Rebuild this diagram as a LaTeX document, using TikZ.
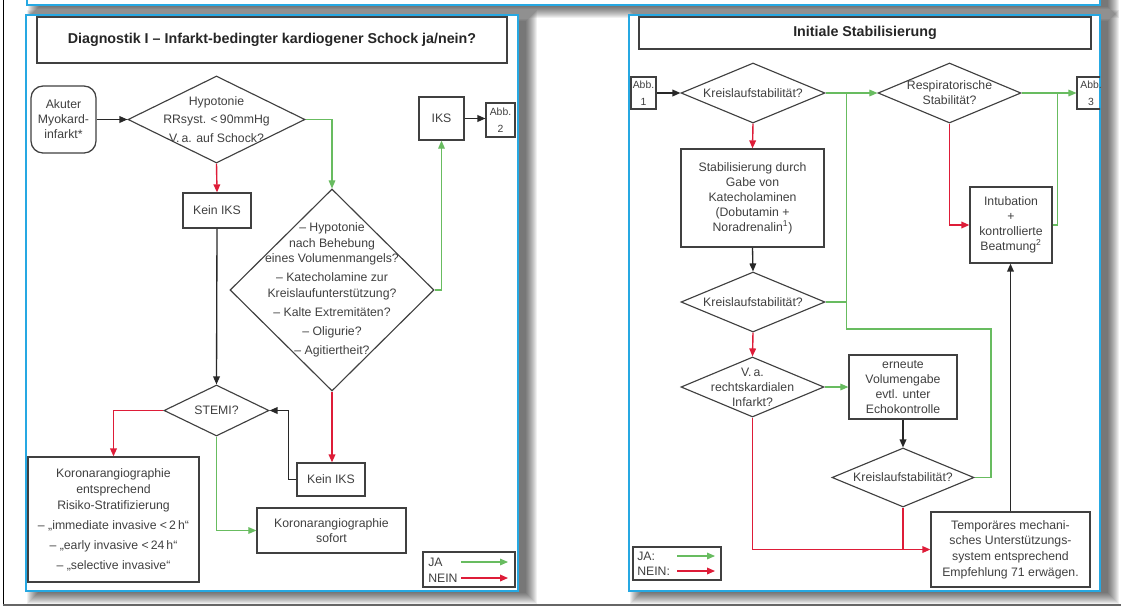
\documentclass[tikz,border=0pt]{standalone}
\usepackage{fontspec}
\setmainfont{Liberation Sans}
\usetikzlibrary{arrows.meta,shapes.geometric,calc}

\definecolor{panelblue}{RGB}{38,168,226}
\definecolor{jagreen}{RGB}{104,188,96}
\definecolor{neinred}{RGB}{222,28,56}
\definecolor{ink}{RGB}{64,64,64}
\definecolor{wire}{RGB}{40,40,40}

% soft drop shadow to the lower right of a rectangle (x0,y0,x1,y1)
\newcommand\pshade[4]{%
  \foreach \b in {0,...,11}{%
    \fill[black,opacity=0.058] (#1+12-\b,#2+6-\b) rectangle (#3+8+\b,#4+2+\b);}}

\begin{document}
\begin{tikzpicture}[x=0.75pt,y=-0.75pt,
  every node/.style={font=\fontsize{9.2}{11.25}\selectfont, text=ink},
  spanbox/.style args={#1/#2/#3/#4}{at={(0.5*#1+0.5*#3,0.5*#2+0.5*#4)},
    minimum width={(#3-#1)*0.75pt}, minimum height={(#4-#2)*0.75pt}},
  box/.style={draw=ink, line width=0.95pt, inner sep=1pt, align=center},
  dia/.style={draw=ink, line width=0.85pt, diamond, inner sep=0pt},
  dtext/.style={align=center, inner sep=0pt},
  head/.style={box, font=\fontsize{10.7}{12}\selectfont\bfseries, text=black!85},
  abb/.style={box, line width=0.8pt, inner sep=0pt, font=\fontsize{7.8}{12.5}\selectfont},
  tip/.style={-{Triangle[length=6pt,width=5pt]}},
  plain/.style={draw=wire, line width=1pt},
  yes/.style={draw=jagreen, line width=0.8pt},
  no/.style={draw=neinred, line width=1.05pt},
  panel/.style={draw=panelblue, line width=1.2pt, fill=white},
]
\useasboundingbox (0,0) rectangle (1121,608);
\fill[white] (0,0) rectangle (1121,608);

% page frame and header strip
\pshade{27}{-30}{1100}{5}
\draw[panel] (27,-30) rectangle (1100,5);
\draw[black,line width=0.9pt] (3.5,0) -- (3.5,605);
\draw[black!60,line width=1.2pt] (3,605) -- (1121,605);

% the two panels
\pshade{26}{15}{518}{591}
\draw[panel] (26,15) rectangle (518,591);
\pshade{629}{15}{1100}{591}
\draw[panel] (629,15) rectangle (1100,591);

% ---------------- Diagnostik I ----------------
\node[head, spanbox=37/17/507/63] (t1) {Diagnostik I – Infarkt-bedingter kardiogener Schock ja/nein?};
\node[box, rounded corners=9pt, spanbox=31/86/96/153] (akut) {Akuter\\Myokard-\\infarkt*};
\node[dia, spanbox=128/76/305/163] (d1) {};
\node[dtext] (d1t) at (d1) {Hypotonie\\[2.6pt] RRsyst. <\,90mmHg\\[2.6pt] V.\,a. auf Schock?};
\node[box, spanbox=419/97/464/140] (iks) {IKS};
\node[abb, spanbox=486/103/515/137] (abb2) {Abb.\\2};
\node[box, spanbox=183/193/251/228] (kein1) {Kein IKS};
\node[dia, spanbox=230/189/434/391] (d2) {};
\node[dtext] (d2t) at (d2) {– Hypotonie\\[0.4pt] nach Behebung\\[0.4pt] eines Volumenmangels?\\[3pt]
  – Katecholamine zur\\[0.4pt] Kreislaufunterstützung?\\[3pt] – Kalte Extremitäten?\\[3pt]
  – Oligurie?\\[3pt] – Agitiertheit?};
\node[dia, spanbox=164/385/269/436] (stemi) {};
\node[dtext] (stemit) at (stemi) {STEMI?};
\node[box, spanbox=28/457/199/582] (koro) {Koronarangiographie\\[0.75pt] entsprechend\\[0.75pt]
  Risiko-Stratifizierung\\[3.75pt] – „immediate invasive <\,2\,h“\\[3.75pt]
  – „early invasive <\,24\,h“\\[3.75pt] – „selective invasive“};
\node[box, spanbox=297/463/365/496] (kein2) {Kein IKS};
\node[box, spanbox=257/508/406/553] (sofort) {Koronarangiographie\\ sofort};

\node[box, line width=0.8pt, spanbox=423/552/515/587] (leg1) {};
\node[anchor=west, align=left, inner sep=0pt] (leg1t) at (428,570) {JA\\[0.75pt] NEIN};
\coordinate (leg1ja0) at (461,562);  \coordinate (leg1ja1) at (508,562);
\coordinate (leg1no0) at (461,578);  \coordinate (leg1no1) at (508,578);
\draw[yes,tip] (leg1ja0) -- (leg1ja1);
\draw[no,tip] (leg1no0) -- (leg1no1);

\draw[plain,tip] (akut.east) -- (d1.west);
\draw[yes,tip] (d1.east) -| (d2.north);
\draw[no,tip] (d1.south) -- (kein1.north);
\draw[yes,tip] (d2.east) -| (iks.south);
\draw[plain,tip] (iks.east) -- (iks.east -| abb2.west);
\draw[plain,tip] (kein1.south) -- (stemi.north);
\draw[no,tip] (stemi.west) -| (koro.north);
\draw[no,tip] (d2.south) -- (d2.south |- kein2.north);
\draw[plain,tip] (kein2.west) -- ++(-8,0) |- (stemi.east);
\draw[yes,tip] (stemi.south) |- (sofort.west);

% ---------------- Initiale Stabilisierung ----------------
\node[head, spanbox=639/17/1091/49] (t2) {Initiale Stabilisierung};
\node[abb, spanbox=631/77/656/109] (abb1) {Abb.\\1};
\node[dia, spanbox=681/63/825/123] (k1) {};
\node[dtext] (k1t) at (k1) {Kreislaufstabilität?};
\node[dia, spanbox=878/63/1021/123] (resp) {};
\node[dtext] (respt) at (resp) {Respiratorische\\Stabilität?};
\begin{scope}
  \clip (629,15) rectangle (1100,591);
  \node[abb, spanbox=1077/77/1105/109] (abb3) {Abb.\\3};
\end{scope}
\node[box, spanbox=681/149/824/247] (stab) {Stabilisierung durch\\Gabe von\\Katecholaminen\\(Dobutamin +\\Noradrenalin\textsuperscript{1})};
\node[dia, spanbox=681/272/825/332] (k2) {};
\node[dtext] (k2t) at (k2) {Kreislaufstabilität?};
\node[box, spanbox=970/187/1052/263] (intub) {Intubation\\+\\kontrollierte\\Beatmung\textsuperscript{2}};
\node[dia, spanbox=681/357/824/417] (va) {};
\node[dtext] (vat) at (va) {V.\,a.\\rechtskardialen\\Infarkt?};
\node[box, spanbox=849/355/957/419] (ern) {erneute\\Volumengabe\\evtl. unter\\Echokontrolle};
\node[dia, spanbox=832/448/974/507] (k3) {};
\node[dtext] (k3t) at (k3) {Kreislaufstabilität?};
\node[box, spanbox=931/512/1090/587] (temp) {Temporäres mechani-\\[0.5pt] sches Unterstützungs-\\[0.5pt] system entsprechend\\[0.5pt] Empfehlung 71 erwägen.};

\node[box, line width=0.8pt, spanbox=633/547/721/580] (leg2) {};
\node[anchor=west, align=left, inner sep=0pt] (leg2t) at (637,563.5) {JA:\\ NEIN:};
\coordinate (leg2ja0) at (677,556);  \coordinate (leg2ja1) at (715,556);
\coordinate (leg2no0) at (677,571);  \coordinate (leg2no1) at (715,571);
\draw[yes,tip] (leg2ja0) -- (leg2ja1);
\draw[no,tip] (leg2no0) -- (leg2no1);

% junctions of the "ja" lines
\coordinate (gj) at ($(k1.east)!0.4!(resp.west)$);
\coordinate (gbend) at (991,329);
\coordinate (rj) at ($(resp.east)!0.66!(abb3.west)$);

\draw[plain,tip] (abb1.east) -- (abb1.east -| k1.west);
\draw[yes,tip] (k1.east) -- (resp.west);
\draw[yes,tip] (resp.east) -- (resp.east -| abb3.west);
\draw[no,tip] (k1.south) -- (stab.north);
\draw[plain,tip] (stab.south) -- (k2.north);
\draw[yes] (k2.east) -- (k2.east -| gj);
\draw[yes] (k3.east) -| (gbend) -| (gj);
\draw[no,tip] (k2.south) -- (va.north);
\draw[yes,tip] (va.east) -- (ern.west);
\draw[plain,tip] (ern.south) -- (k3.north);
\draw[no,tip] (va.south) |- (temp.west);
\draw[no] (k3.south) -- (k3.south |- temp.west);
\draw[plain,tip] (temp.north) -- (temp.north |- intub.south);
\draw[no,tip] (resp.south) |- (intub.west);
\draw[yes] (intub.east) -| (rj);
\end{tikzpicture}
\end{document}
